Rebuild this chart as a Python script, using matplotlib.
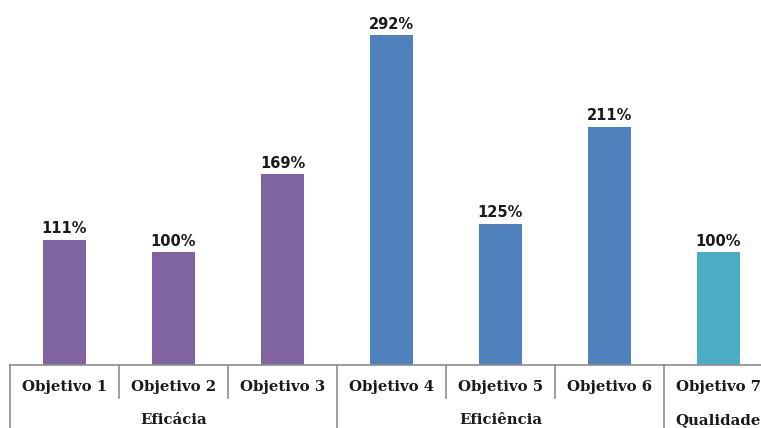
import matplotlib
matplotlib.use("Agg")
import matplotlib.pyplot as plt

categories = ["Objetivo 1", "Objetivo 2", "Objetivo 3", "Objetivo 4", "Objetivo 5", "Objetivo 6", "Objetivo 7"]
values = [111, 100, 169, 292, 125, 211, 100]
groups = ["Eficácia", "Eficiência", "Qualidade"]
group_sizes = [3, 3, 1]
colors = ["#8064A2"] * 3 + ["#4F81BD"] * 3 + ["#4BACC6"]

W, H = 761, 428
fig = plt.figure(figsize=(W / 100, H / 100), dpi=100)
left_px, base_px, slot_px = 10, 365, 109
n = len(categories)
ax = fig.add_axes([left_px / W, (H - base_px) / H, n * slot_px / W, base_px / H])
ax.set_xlim(0, n)
ax.set_ylim(0, base_px / (330 / 292))

xs = [i + 0.5 for i in range(n)]
bars = ax.bar(xs, values, width=43 / slot_px, color=colors, zorder=2)
for x, v in zip(xs, values):
    ax.annotate(f"{v}%", (x, v), xytext=(0, 2.5), textcoords="offset points",
                ha="center", va="bottom", fontsize=10.5, fontweight="bold",
                family="DejaVu Sans", color="#1a1a1a")

for s in ["top", "right", "left"]:
    ax.spines[s].set_visible(False)
ax.spines["bottom"].set_color("#8c8c8c")
ax.spines["bottom"].set_linewidth(1.2)
ax.set_xticks([])
ax.set_yticks([])

tr = ax.get_xaxis_transform()
inner = -33 / base_px
outer = -(H - base_px + 5) / base_px
for i, c in enumerate(categories):
    ax.text(i + 0.5, -22 / base_px, c, transform=tr, ha="center", va="center",
            fontsize=10.7, fontweight="bold", family="DejaVu Serif", color="#1a1a1a")

bounds = [0]
for g in group_sizes:
    bounds.append(bounds[-1] + g)
for i in range(n + 1):
    y2 = outer if i in bounds else inner
    ax.plot([i, i], [0, y2], transform=tr, color="#8c8c8c", lw=1.2, clip_on=False)

for gi, g in enumerate(groups):
    c = (bounds[gi] + bounds[gi + 1]) / 2
    ax.text(c, -(H - base_px - 1) / base_px, g, transform=tr, ha="center", va="bottom",
            fontsize=10.7, fontweight="bold", family="DejaVu Serif", color="#1a1a1a")

fig.savefig("out.png", dpi=100)
